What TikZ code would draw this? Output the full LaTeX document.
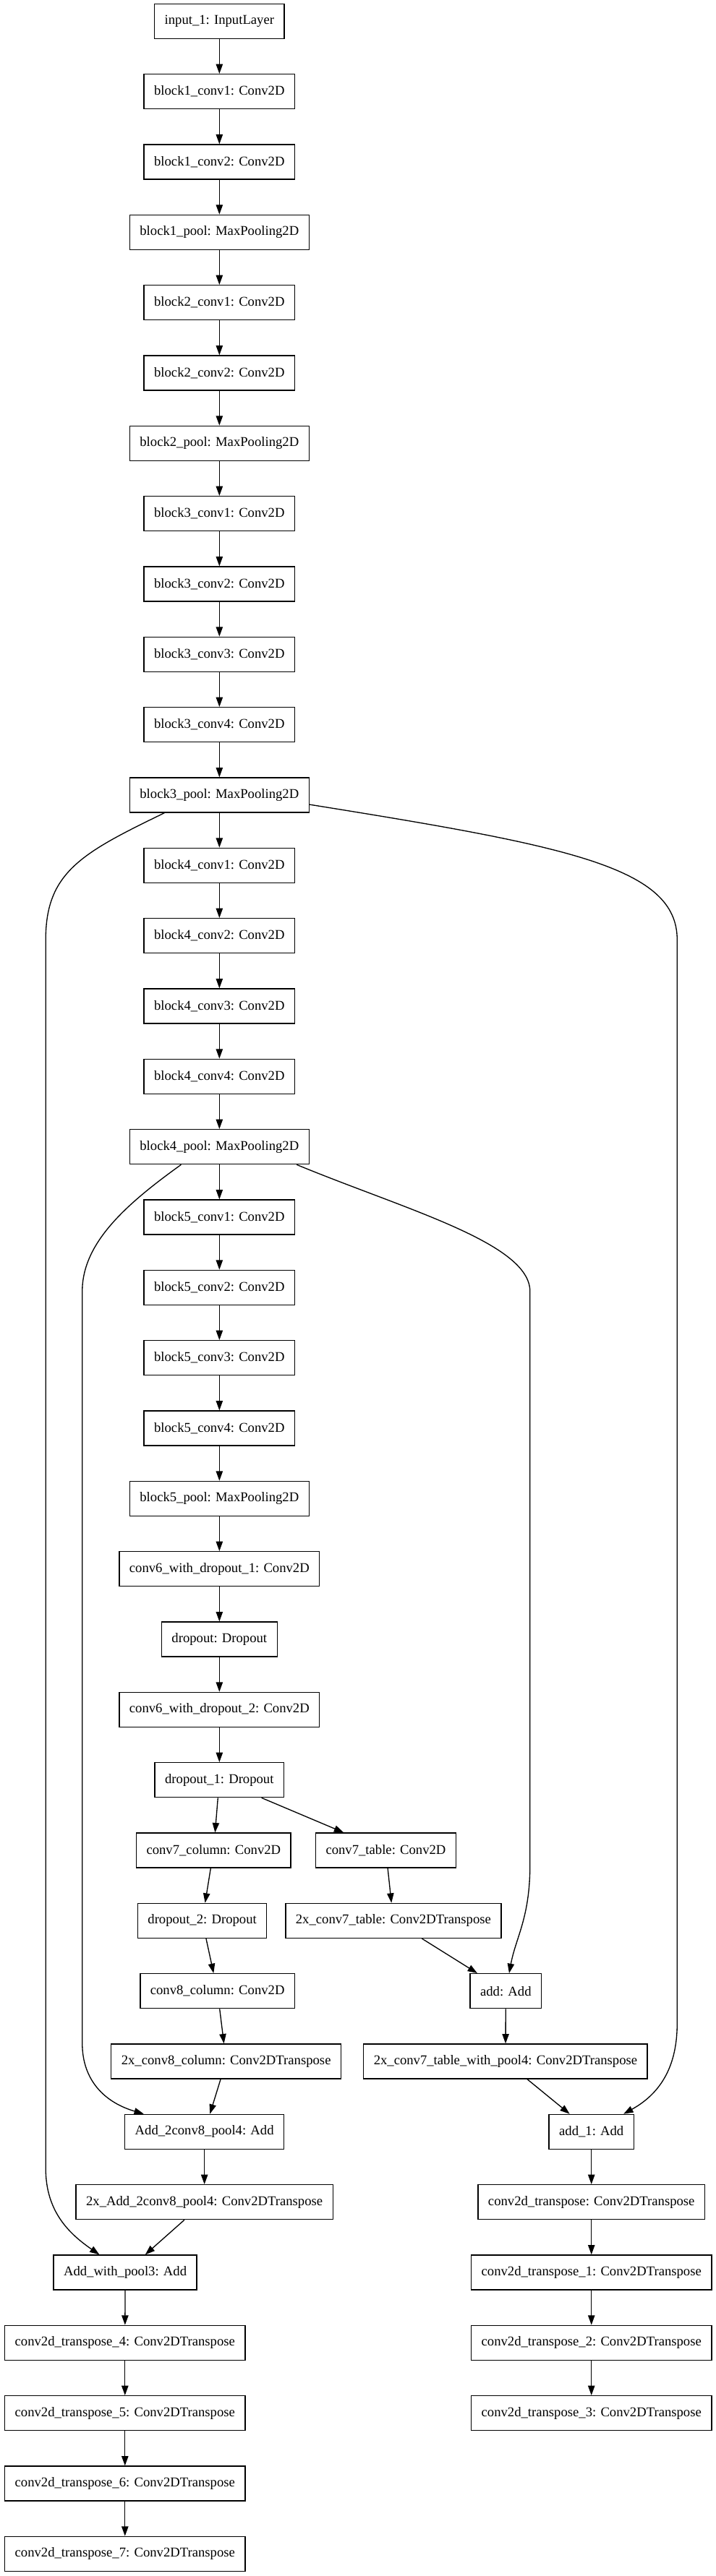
\documentclass[tikz,border=0pt]{standalone}
\usepackage{fontspec}
\setmainfont{Liberation Serif}
\usetikzlibrary{arrows.meta}

\tikzset{
  layer/.style={draw, line width=1pt, minimum height=36pt, inner xsep=10.5pt, inner ysep=0pt,
    font=\fontsize{14}{16}\selectfont},
  arr/.style={-{Triangle[length=10pt,width=7pt]}, line width=1pt},
}

\begin{document}
\begin{tikzpicture}[x=1pt, y=-1pt]
\useasboundingbox (0,0) rectangle (741.75,2673);
% encoder column
\node[layer] (in1) at (227.5,22) {input\_1: InputLayer};
\foreach \nm/\txt [count=\k, remember=\nm as \prev (initially in1)] in {
  b1c1/block1\_conv1: Conv2D, b1c2/block1\_conv2: Conv2D, b1p/block1\_pool: MaxPooling2D,
  b2c1/block2\_conv1: Conv2D, b2c2/block2\_conv2: Conv2D, b2p/block2\_pool: MaxPooling2D,
  b3c1/block3\_conv1: Conv2D, b3c2/block3\_conv2: Conv2D, b3c3/block3\_conv3: Conv2D,
  b3c4/block3\_conv4: Conv2D, b3p/block3\_pool: MaxPooling2D,
  b4c1/block4\_conv1: Conv2D, b4c2/block4\_conv2: Conv2D, b4c3/block4\_conv3: Conv2D,
  b4c4/block4\_conv4: Conv2D, b4p/block4\_pool: MaxPooling2D,
  b5c1/block5\_conv1: Conv2D, b5c2/block5\_conv2: Conv2D, b5c3/block5\_conv3: Conv2D,
  b5c4/block5\_conv4: Conv2D, b5p/block5\_pool: MaxPooling2D,
  c6d1/conv6\_with\_dropout\_1: Conv2D, drop/dropout: Dropout,
  c6d2/conv6\_with\_dropout\_2: Conv2D, drop1/dropout\_1: Dropout} {
  \node[layer] (\nm) at (227.5,{22+73*\k}) {\txt};
  \draw[arr] (\prev) -- (\nm);
}

% column branch
\node[layer] (c7col) at (221.5,1920) {conv7\_column: Conv2D};
\node[layer] (drop2) at (209.7,1993) {dropout\_2: Dropout};
\node[layer] (c8col) at (225.5,2066) {conv8\_column: Conv2D};
\node[layer] (up8col) at (234.5,2139) {2x\_conv8\_column: Conv2DTranspose};
\node[layer] (add2c8) at (212,2212) {Add\_2conv8\_pool4: Add};
\node[layer] (upadd) at (212,2285) {2x\_Add\_2conv8\_pool4: Conv2DTranspose};
\node[layer] (addp3) at (129.8,2358) {Add\_with\_pool3: Add};
\node[layer] (tr4) at (129.6,2431) {conv2d\_transpose\_4: Conv2DTranspose};
\node[layer] (tr5) at (129.6,2504) {conv2d\_transpose\_5: Conv2DTranspose};
\node[layer] (tr6) at (129.6,2577) {conv2d\_transpose\_6: Conv2DTranspose};
\node[layer] (tr7) at (129.6,2650) {conv2d\_transpose\_7: Conv2DTranspose};

% table branch
\node[layer] (c7tab) at (400.1,1920) {conv7\_table: Conv2D};
\node[layer] (up7tab) at (407.9,1993) {2x\_conv7\_table: Conv2DTranspose};
\node[layer] (add) at (524.5,2066) {add: Add};
\node[layer] (up7p4) at (524.2,2139) {2x\_conv7\_table\_with\_pool4: Conv2DTranspose};
\node[layer] (add1) at (613.3,2212) {add\_1: Add};
\node[layer] (tr0) at (613.3,2285) {conv2d\_transpose: Conv2DTranspose};
\node[layer] (tr1) at (613.3,2358) {conv2d\_transpose\_1: Conv2DTranspose};
\node[layer] (tr2) at (613.3,2431) {conv2d\_transpose\_2: Conv2DTranspose};
\node[layer] (tr3) at (613.3,2504) {conv2d\_transpose\_3: Conv2DTranspose};

\foreach \a/\b in {drop1/c7col, c7col/drop2, drop2/c8col, c8col/up8col, up8col/add2c8,
  add2c8/upadd, upadd/addp3, addp3/tr4, tr4/tr5, tr5/tr6, tr6/tr7,
  drop1/c7tab, c7tab/up7tab, up7tab/add, add/up7p4, up7p4/add1,
  add1/tr0, tr0/tr1, tr1/tr2, tr2/tr3}
  \draw[arr] (\a) -- (\b);

% skip connections
\draw[arr] (b3p.-162) .. controls (85,885) and (47.4,905) .. (47.4,975) -- (47.4,2250)
  .. controls (47.4,2295) and (72,2318) .. (addp3);
\draw[arr] (b3p.-6) .. controls (590,878) and (702.2,900) .. (702.2,975) -- (702.2,2100)
  .. controls (702.2,2150) and (680,2175) .. (add1);
\draw[arr] (b4p.-155) .. controls (130,1250) and (85.3,1290) .. (85.3,1340) -- (85.3,2120)
  .. controls (85.3,2160) and (110,2182) .. (add2c8);
\draw[arr] (b4p.-13) .. controls (420,1255) and (549.6,1290) .. (549.6,1340) -- (549.6,1935)
  .. controls (549.6,1990) and (535,2010) .. (add);
\end{tikzpicture}
\end{document}
